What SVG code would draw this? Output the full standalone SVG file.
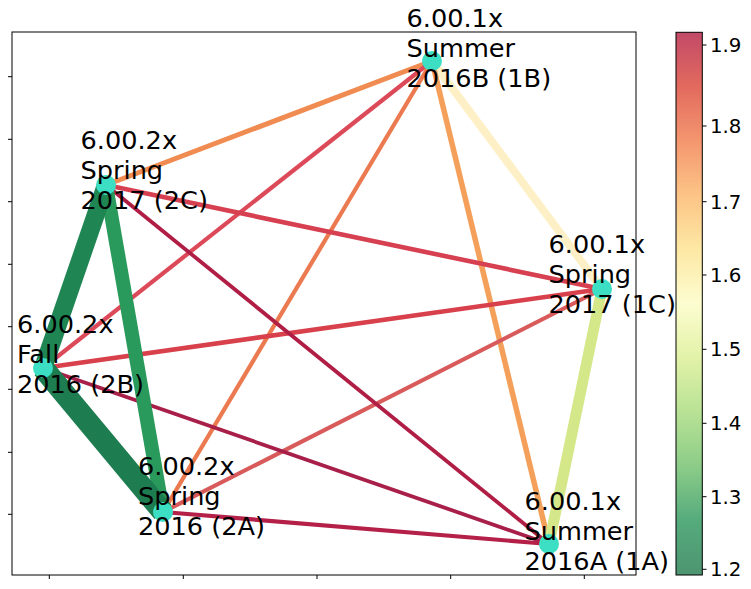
<svg xmlns="http://www.w3.org/2000/svg" width="751" height="589" viewBox="0 0 751 589">
<style>
.lbl{font-family:"DejaVu Sans",sans-serif;font-size:25.6px;fill:#000}
.tk{font-family:"DejaVu Sans",sans-serif;font-size:19.8px;fill:#000}
.e{fill:none;stroke-linecap:butt}
.nd{fill:#3ddfc4}
.ax{stroke:#000;stroke-width:1}
</style>
<defs>
<linearGradient id="cb" x1="0" y1="1" x2="0" y2="0">
<stop offset="0" stop-color="#4d9570"/>
<stop offset="0.1" stop-color="#55ab7c"/>
<stop offset="0.2" stop-color="#8ccc88"/>
<stop offset="0.3" stop-color="#b8e295"/>
<stop offset="0.4" stop-color="#e2f2a8"/>
<stop offset="0.5" stop-color="#fdfdd0"/>
<stop offset="0.6" stop-color="#fde8a4"/>
<stop offset="0.7" stop-color="#fcc486"/>
<stop offset="0.8" stop-color="#f4966f"/>
<stop offset="0.9" stop-color="#e26a5e"/>
<stop offset="1" stop-color="#c24a68"/>
</linearGradient>
</defs>
<rect width="751" height="589" fill="#fff"/>
<g id="axes">
<rect x="12" y="32" width="624" height="543" fill="none" class="ax"/>
<path class="ax" d="M8 76.7H12M8 139.3H12M8 201.7H12M8 264.3H12M8 326.7H12M8 389.3H12M8 452.3H12M8 514.3H12"/>
<path class="ax" d="M49.3 575V579M183.3 575V579M317 575V579M450.7 575V579M584.3 575V579"/>
</g>
<g id="connectors">
<line class="e" x1="432" y1="61" x2="602" y2="289" stroke="#fde6a0" stroke-width="8" opacity="0.6"/>
<line class="e" x1="432" y1="61" x2="106" y2="185" stroke="#f08c52" stroke-width="5"/>
<line class="e" x1="432" y1="61" x2="549" y2="544" stroke="#f5a05a" stroke-width="5.5"/>
<line class="e" x1="432" y1="61" x2="43" y2="368" stroke="#dc4a5a" stroke-width="4.2"/>
<line class="e" x1="432" y1="61" x2="163" y2="512" stroke="#ec7a50" stroke-width="4.2"/>
<line class="e" x1="106" y1="185" x2="602" y2="289" stroke="#d64050" stroke-width="4.6"/>
<line class="e" x1="43" y1="368" x2="602" y2="289" stroke="#d8404c" stroke-width="4.6"/>
<line class="e" x1="163" y1="512" x2="602" y2="289" stroke="#d85a5a" stroke-width="4.2"/>
<line class="e" x1="106" y1="185" x2="549" y2="544" stroke="#b01e45" stroke-width="3.8"/>
<line class="e" x1="43" y1="368" x2="549" y2="544" stroke="#a8204a" stroke-width="3.8"/>
<line class="e" x1="163" y1="512" x2="549" y2="544" stroke="#b42048" stroke-width="4.2"/>
<line class="e" x1="602" y1="289" x2="549" y2="544" stroke="#d4e88a" stroke-width="11"/>
<line class="e" x1="106" y1="185" x2="163" y2="512" stroke="#2a9a5c" stroke-width="14"/>
<line class="e" x1="106" y1="185" x2="43" y2="368" stroke="#1f8553" stroke-width="18"/>
<line class="e" x1="43" y1="368" x2="163" y2="512" stroke="#1e7d50" stroke-width="22"/>
</g>
<g id="n1B"><circle class="nd" cx="432" cy="61" r="10"/><text class="lbl" x="406.5" y="26.7">6.00.1x<tspan x="406.5" dy="30">Summer</tspan><tspan x="406.5" dy="30">2016B (1B)</tspan></text></g>
<g id="n2C"><circle class="nd" cx="106" cy="185" r="10"/><text class="lbl" x="80.5" y="149.3">6.00.2x<tspan x="80.5" dy="30">Spring</tspan><tspan x="80.5" dy="30">2017 (2C)</tspan></text></g>
<g id="n1C"><circle class="nd" cx="602" cy="289" r="10"/><text class="lbl" x="548.5" y="253.3">6.00.1x<tspan x="548.5" dy="30">Spring</tspan><tspan x="548.5" dy="30">2017 (1C)</tspan></text></g>
<g id="n2B"><circle class="nd" cx="43" cy="368" r="10"/><text class="lbl" x="17" y="333.3">6.00.2x<tspan x="17" dy="30">Fall</tspan><tspan x="17" dy="30">2016 (2B)</tspan></text></g>
<g id="n2A"><circle class="nd" cx="163" cy="512" r="10"/><text class="lbl" x="138" y="475">6.00.2x<tspan x="138" dy="30">Spring</tspan><tspan x="138" dy="30">2016 (2A)</tspan></text></g>
<g id="n1A"><circle class="nd" cx="549" cy="544" r="10"/><text class="lbl" x="524.5" y="510">6.00.1x<tspan x="524.5" dy="30">Summer</tspan><tspan x="524.5" dy="30">2016A (1A)</tspan></text></g>
<g id="colorbar">
<rect x="676" y="32.3" width="26.3" height="542.7" fill="url(#cb)" class="ax"/>
<path class="ax" d="M702.3 45H706.5M702.3 126H706.5M702.3 201.7H706.5M702.3 275H706.5M702.3 349.3H706.5M702.3 423.3H706.5M702.3 496.7H706.5M702.3 569.3H706.5"/>
<text class="tk" x="710" y="52">1.9</text>
<text class="tk" x="710" y="133">1.8</text>
<text class="tk" x="710" y="208.7">1.7</text>
<text class="tk" x="710" y="282">1.6</text>
<text class="tk" x="710" y="356.3">1.5</text>
<text class="tk" x="710" y="430.3">1.4</text>
<text class="tk" x="710" y="503.7">1.3</text>
<text class="tk" x="710" y="576.3">1.2</text>
</g>
</svg>
